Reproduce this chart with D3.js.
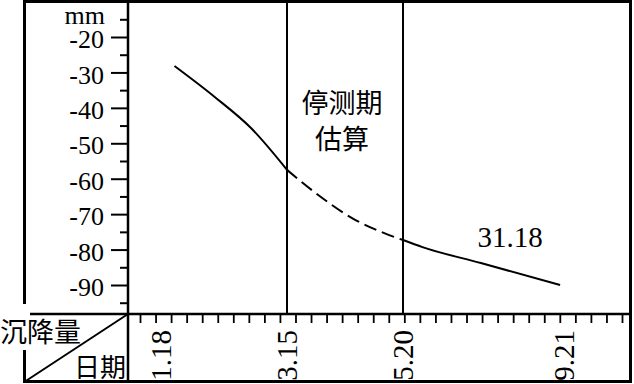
<!DOCTYPE html>
<html><head><meta charset="utf-8">
<script src="https://cdn.jsdelivr.net/npm/d3@7"></script>
<style>body{margin:0;background:#fff}svg{display:block}
.serif{font-family:"Liberation Serif","Times New Roman",Times,serif !important}
.cjk{font-family:"Noto Sans CJK SC","Noto Sans CJK JP",sans-serif}
</style>
</head><body>
<svg id="c" width="634" height="384"></svg>
<script>
// ---- data ----
const yMajorTicks = [-20, -30, -40, -50, -60, -70, -80, -90];
const yMinorTicks = [-15, -25, -35, -45, -55, -65, -75, -85, -95];
const yUnit = "mm";
const dateLabels = ["1.18", "3.15", "5.20", "9.21"];
const dateDays = [18, 74, 140, 264];            // day of year
const boundaryDays = [74, 140];                 // 3.15, 5.20
const measuredBeforeDays = [24, 42, 58, 74];
const measuredBefore = [-28.2, -37.0, -45.7, -57.5];
const estimatedDays = [74, 91, 111, 129, 140];
const estimated = [-57.5, -64.3, -71.1, -75.3, -77.3];
const measuredAfterDays = [140, 155, 200, 261];
const measuredAfter = [-77.3, -79.3, -83.8, -90.0];
const xMinorTickIdx = d3.range(32);
const periodLabel = ["停测期", "估算"];
const valueLabel = "31.18";
const cornerLabels = ["沉降量", "日期"];

// ---- drawing ----
const svg = d3.select("#c");

const y = d3.scaleLinear().domain([-20, -90]).range([37, 285]);
const x = d3.scaleLinear().domain(dateDays).range([161, 287, 403, 564]);
const xt = d3.scaleLinear().domain([0, 31]).range([140, 622]);

const axisX = 128, axisY = 314;

svg.append("rect").attr("width", 634).attr("height", 384).attr("fill", "#fff");

// frame
svg.append("rect").attr("x", 24.5).attr("y", 1.5).attr("width", 606).attr("height", 380)
  .attr("fill", "none").attr("stroke", "#000").attr("stroke-width", 3);

// axes lines
svg.append("line").attr("x1", axisX).attr("x2", axisX).attr("y1", 2).attr("y2", 381)
  .attr("stroke", "#000").attr("stroke-width", 2.5);
svg.append("line").attr("x1", 24).attr("x2", 631).attr("y1", axisY).attr("y2", axisY)
  .attr("stroke", "#000").attr("stroke-width", 2.5);

// y ticks
const gy = svg.append("g").attr("transform", `translate(${axisX},0)`);
gy.call(d3.axisLeft(y).tickValues(yMajorTicks).tickSize(17).tickPadding(7).tickFormat(d => d))
  .call(g => g.select(".domain").remove());
gy.attr("font-family", null).attr("font-size", null);
gy.selectAll(".tick line").attr("stroke-width", 2);
gy.selectAll(".tick text").attr("class", "serif").style("font-size", "26px").attr("dy", "0.41em").attr("fill", "#000");

const gy2 = svg.append("g").attr("transform", `translate(${axisX},0)`);
gy2.call(d3.axisLeft(y).tickValues(yMinorTicks).tickSize(8).tickFormat(""))
  .call(g => g.select(".domain").remove());
gy2.selectAll(".tick line").attr("stroke-width", 2);

svg.append("text").attr("class", "serif").attr("x", 105).attr("y", 24).attr("text-anchor", "end")
  .style("font-size", "26px").text(yUnit);

// x minor ticks
const gx = svg.append("g").attr("transform", `translate(0,${axisY})`);
gx.call(d3.axisBottom(xt).tickValues(xMinorTickIdx).tickSize(9).tickFormat(""))
  .call(g => g.select(".domain").remove());
gx.selectAll(".tick line").attr("stroke-width", 1.8);

// boundary lines
svg.selectAll(".bline").data(boundaryDays).join("line")
  .attr("x1", d => x(d)).attr("x2", d => x(d)).attr("y1", 2).attr("y2", axisY)
  .attr("stroke", "#000").attr("stroke-width", 2);

// x labels
svg.selectAll(".xl").data(dateLabels).join("text").attr("class", "serif")
  .attr("transform", (d, i) => `translate(${x(dateDays[i])},330) rotate(-90)`)
  .attr("text-anchor", "end").attr("dy", "0.34em")
  .style("font-size", "29px").text(d => d);

// lines
const line = d3.line().x(d => x(d[0])).y(d => y(d[1])).curve(d3.curveMonotoneX);
const mk = (ds, vs) => ds.map((d, i) => [d, vs[i]]);
svg.append("path").attr("d", line(mk(measuredBeforeDays, measuredBefore)))
  .attr("fill", "none").attr("stroke", "#000").attr("stroke-width", 2);
svg.append("path").attr("d", line(mk(estimatedDays, estimated)))
  .attr("fill", "none").attr("stroke", "#000").attr("stroke-width", 2).attr("stroke-dasharray", "13,6");
svg.append("path").attr("d", line(mk(measuredAfterDays, measuredAfter)))
  .attr("fill", "none").attr("stroke", "#000").attr("stroke-width", 2);

// period label
const pcx = (x(boundaryDays[0]) + x(boundaryDays[1])) / 2 - 3;
svg.append("text").attr("class", "cjk").attr("x", pcx).attr("y", 113).attr("text-anchor", "middle")
  .style("font-size", "27px").text(periodLabel[0]);
svg.append("text").attr("class", "cjk").attr("x", pcx).attr("y", 149).attr("text-anchor", "middle")
  .style("font-size", "27px").text(periodLabel[1]);

// value label
svg.append("text").attr("class", "serif").attr("x", 510).attr("y", 247).attr("text-anchor", "middle")
  .style("font-size", "29px").text(valueLabel);

// corner cell
svg.append("line").attr("x1", axisX).attr("y1", axisY).attr("x2", 25).attr("y2", 381.5)
  .attr("stroke", "#000").attr("stroke-width", 2);
svg.append("rect").attr("x", 20).attr("y", 304).attr("width", 10).attr("height", 46).attr("fill", "#fff");
svg.append("text").attr("class", "cjk").attr("x", 0).attr("y", 342)
  .style("font-size", "27px").text(cornerLabels[0]);
svg.append("text").attr("class", "cjk").attr("x", 126).attr("y", 377).attr("text-anchor", "end")
  .style("font-size", "26px").text(cornerLabels[1]);
</script>
</body></html>
